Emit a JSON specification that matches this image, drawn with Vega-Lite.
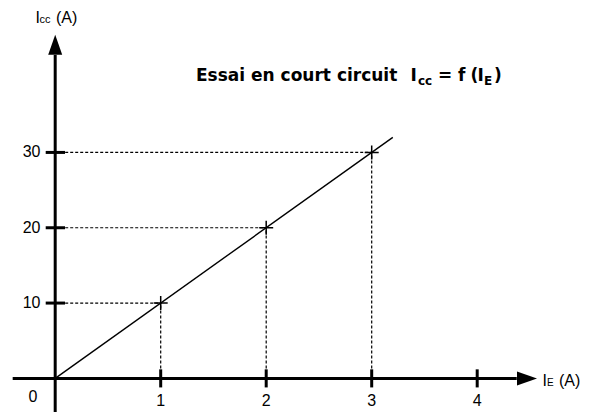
{
  "$schema": "https://vega.github.io/schema/vega-lite/v6.json",
  "width": 590,
  "height": 414,
  "autosize": {"type": "fit", "contains": "padding"},
  "padding": 0,
  "background": "white",
  "config": {"view": {"stroke": null}},
  "encoding": {
    "x": {"field": "x", "type": "quantitative", "scale": {"domain": [-0.5232, 5.0692], "nice": false, "zero": false}, "axis": null},
    "y": {"field": "y", "type": "quantitative", "scale": {"domain": [-4.596, 50.238], "nice": false, "zero": false}, "axis": null}
  },
  "layer": [
    {
      "data": {"values": [
        {"x": 0, "x2": 1, "y": 10, "y2": 10},
        {"x": 1, "x2": 1, "y": 0, "y2": 10},
        {"x": 0, "x2": 2, "y": 20, "y2": 20},
        {"x": 2, "x2": 2, "y": 0, "y2": 20},
        {"x": 0, "x2": 3, "y": 30, "y2": 30},
        {"x": 3, "x2": 3, "y": 0, "y2": 30}
      ]},
      "mark": {"type": "rule", "color": "black", "strokeWidth": 1.2, "strokeDash": [3, 2]},
      "encoding": {"x2": {"field": "x2"}, "y2": {"field": "y2"}}
    },
    {
      "data": {"values": [{"x": 0, "y": 0}, {"x": 3.2, "y": 32}]},
      "mark": {"type": "line", "color": "black", "strokeWidth": 1.4}
    },
    {
      "data": {"values": [
        {"x": -0.403, "x2": 4.375, "y": 0, "y2": 0},
        {"x": 0, "x2": 0, "y": -4.46, "y2": 42.95},
        {"x": 1, "x2": 1, "y": -1.2, "y2": 1.2},
        {"x": 2, "x2": 2, "y": -1.2, "y2": 1.2},
        {"x": 3, "x2": 3, "y": -1.2, "y2": 1.2},
        {"x": 4, "x2": 4, "y": -1.2, "y2": 1.2},
        {"x": -0.09, "x2": 0.093, "y": 10, "y2": 10},
        {"x": -0.09, "x2": 0.093, "y": 20, "y2": 20},
        {"x": -0.09, "x2": 0.093, "y": 30, "y2": 30}
      ]},
      "mark": {"type": "rule", "color": "black", "strokeWidth": 3},
      "encoding": {"x2": {"field": "x2"}, "y2": {"field": "y2"}}
    },
    {
      "data": {"values": [{"x": 4.472, "y": 0}]},
      "mark": {"type": "point", "shape": "M-1,-0.7L1,0L-1,0.7Z", "size": 400, "filled": true, "color": "black", "opacity": 1, "strokeWidth": 0}
    },
    {
      "data": {"values": [{"x": 0, "y": 44.28}]},
      "mark": {"type": "point", "shape": "M-0.7,1L0,-1L0.7,1Z", "size": 400, "filled": true, "color": "black", "opacity": 1, "strokeWidth": 0}
    },
    {
      "data": {"values": [{"x": 1, "y": 10}, {"x": 2, "y": 20}, {"x": 3, "y": 30}]},
      "mark": {"type": "point", "shape": "M-1,0H1M0,-1V1", "size": 196, "filled": false, "color": "black", "opacity": 1, "strokeWidth": 1.5}
    },
    {
      "data": {"values": [
        {"x": 1, "y": -3.67, "t": "1"},
        {"x": 2, "y": -3.67, "t": "2"},
        {"x": 3, "y": -3.67, "t": "3"},
        {"x": 4, "y": -3.67, "t": "4"},
        {"x": -0.21, "y": -3.1, "t": "0"}
      ]},
      "mark": {"type": "text", "font": "Liberation Sans", "fontSize": 16, "align": "center", "baseline": "alphabetic", "color": "black"},
      "encoding": {"text": {"field": "t"}}
    },
    {
      "data": {"values": [
        {"x": -0.14, "y": 10, "t": "10"},
        {"x": -0.14, "y": 20, "t": "20"},
        {"x": -0.14, "y": 30, "t": "30"}
      ]},
      "mark": {"type": "text", "font": "Liberation Sans", "fontSize": 16, "align": "right", "baseline": "middle", "color": "black"},
      "encoding": {"text": {"field": "t"}}
    },
    {
      "data": {"values": [
        {"x": -0.1867, "y": 47.15, "t": "I"},
        {"x": 0.0076, "y": 47.15, "t": "(A)"},
        {"x": 4.619, "y": -1.02, "t": "I"},
        {"x": 4.775, "y": -1.02, "t": "(A)"}
      ]},
      "mark": {"type": "text", "font": "Liberation Sans", "fontSize": 16, "align": "left", "baseline": "alphabetic", "color": "black"},
      "encoding": {"text": {"field": "t"}}
    },
    {
      "data": {"values": [{"x": -0.1488, "y": 47.15, "t": "cc"}]},
      "mark": {"type": "text", "font": "Liberation Sans", "fontSize": 11, "align": "left", "baseline": "alphabetic", "color": "black"},
      "encoding": {"text": {"field": "t"}}
    },
    {
      "data": {"values": [{"x": 4.6616, "y": -1.02, "t": "E"}]},
      "mark": {"type": "text", "font": "Liberation Sans", "fontSize": 10, "align": "left", "baseline": "alphabetic", "color": "black"},
      "encoding": {"text": {"field": "t"}}
    },
    {
      "data": {"values": [
        {"x": 1.3346, "y": 39.44, "t": "Essai en court circuit"},
        {"x": 3.3678, "y": 39.44, "t": "I"},
        {"x": 3.6284, "y": 39.44, "t": "="},
        {"x": 3.8180, "y": 39.44, "t": "f"},
        {"x": 3.9365, "y": 39.44, "t": "("},
        {"x": 4.0028, "y": 39.44, "t": "I"},
        {"x": 4.1592, "y": 39.44, "t": ")"}
      ]},
      "mark": {"type": "text", "font": "DejaVu Sans", "fontWeight": "bold", "fontSize": 17, "align": "left", "baseline": "alphabetic", "color": "black"},
      "encoding": {"text": {"field": "t"}}
    },
    {
      "data": {"values": [
        {"x": 3.4389, "y": 38.91, "t": "cc"},
        {"x": 4.0645, "y": 38.91, "t": "E"}
      ]},
      "mark": {"type": "text", "font": "DejaVu Sans", "fontWeight": "bold", "fontSize": 12, "align": "left", "baseline": "alphabetic", "color": "black"},
      "encoding": {"text": {"field": "t"}}
    }
  ]
}
